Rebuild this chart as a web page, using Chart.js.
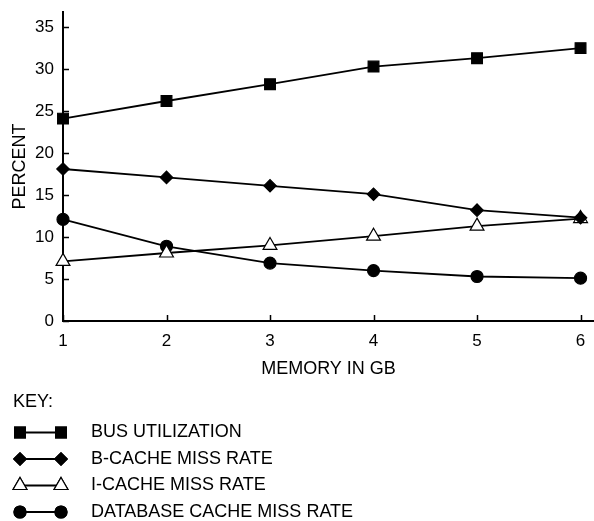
<!DOCTYPE html>
<html>
<head>
<meta charset="utf-8">
<script src="https://cdn.jsdelivr.net/npm/chart.js@4"></script>
<style>
  html, body { margin: 0; padding: 0; background: #fff; }
  #wrap { width: 594px; height: 521px; }
</style>
</head>
<body>
<div id="wrap"><canvas id="graphique" width="594" height="521"></canvas></div>
<script>
// valeurs
var memoire = [1, 2, 3, 4, 5, 6];
var busUtilisation = [24.1, 26.2, 28.2, 30.3, 31.3, 32.5];
var bCacheMiss = [18.1, 17.1, 16.1, 15.1, 13.2, 12.3];
var iCacheMiss = [7.1, 8.1, 9.0, 10.1, 11.3, 12.2];
var baseCacheMiss = [12.1, 8.9, 6.9, 6.0, 5.3, 5.1];

var noms = ["BUS UTILIZATION", "B-CACHE MISS RATE", "I-CACHE MISS RATE", "DATABASE CACHE MISS RATE"];
var series = [busUtilisation, bCacheMiss, iCacheMiss, baseCacheMiss];
var styles = ["rect", "rectRot", "triangle", "circle"];
var rayons = [7.6, 6.2, 8, 6];
var remplis = ["#000", "#000", "#fff", "#000"];

var police = "'Liberation Sans', Arial, Helvetica, sans-serif";

function Points(valeurs) {
    var pts = [];
    var i = 0;
    while (i < valeurs.length) {
        pts.push({ x: memoire[i], y: valeurs[i] });
        i++;
    }
    return pts;
}

var datasets = [];
for (var i = 0; i < series.length; i++) {
    datasets.push({
        label: noms[i],
        data: Points(series[i]),
        borderColor: "#000",
        borderWidth: 1.8,
        pointStyle: styles[i],
        pointRadius: rayons[i],
        pointHoverRadius: rayons[i],
        pointBackgroundColor: remplis[i],
        pointBorderColor: "#000",
        pointBorderWidth: 1.2,
        tension: 0,
        clip: false
    });
}

// petits traits de graduation vers l'intérieur
var graduations = {
    id: "graduations",
    afterDraw: function (chart) {
        var ctx = chart.ctx;
        var sx = chart.scales.x, sy = chart.scales.y;
        var area = chart.chartArea;
        ctx.save();
        ctx.strokeStyle = "#000";
        ctx.lineWidth = 1.5;
        ctx.beginPath();
        sy.ticks.forEach(function (t) {
            var py = Math.round(sy.getPixelForValue(t.value)) + 0.5;
            ctx.moveTo(area.left, py);
            ctx.lineTo(area.left + 6, py);
        });
        sx.ticks.forEach(function (t) {
            var px = Math.round(sx.getPixelForValue(t.value)) + 0.5;
            ctx.moveTo(px, area.bottom);
            ctx.lineTo(px, area.bottom - 6);
        });
        ctx.stroke();
        ctx.restore();
    }
};

// légende "KEY:" dessinée sous le graphique
var cle = {
    id: "cle",
    afterDraw: function (chart) {
        var ctx = chart.ctx;
        ctx.save();
        ctx.fillStyle = "#000";
        ctx.font = "18px " + police;
        ctx.textBaseline = "middle";
        ctx.textAlign = "left";
        ctx.fillText("KEY:", 13, 402);
        chart.data.datasets.forEach(function (ds, k) {
            var y = 432.5 + 26.5 * k;
            ctx.strokeStyle = "#000";
            ctx.lineWidth = 1.8;
            ctx.beginPath();
            ctx.moveTo(20, y);
            ctx.lineTo(61, y);
            ctx.stroke();
            ctx.fillStyle = ds.pointBackgroundColor;
            ctx.lineWidth = 1.2;
            [20, 61].forEach(function (x) {
                Chart.helpers.drawPoint(ctx, { pointStyle: ds.pointStyle, radius: ds.pointRadius, borderWidth: 1.2, rotation: 0 }, x, y);
                ctx.fill();
                ctx.stroke();
            });
            ctx.fillStyle = "#000";
            ctx.fillText(ds.label, 91, y);
        });
        ctx.restore();
    }
};

var ctx = document.getElementById("graphique").getContext("2d");
var graphique = new Chart(ctx, {
    type: "line",
    data: { datasets: datasets },
    plugins: [graduations, cle],
    options: {
        responsive: false,
        animation: false,
        layout: { autoPadding: false, padding: { top: 12, right: 0, left: 0, bottom: 141 } },
        plugins: {
            legend: { display: false },
            tooltip: { enabled: false }
        },
        scales: {
            x: {
                type: "linear",
                min: 1,
                max: 6.13,
                grid: { display: false, drawTicks: false },
                border: { display: true, color: "#000", width: 2 },
                ticks: {
                    stepSize: 1,
                    includeBounds: false,
                    color: "#000",
                    padding: 10,
                    font: { family: police, size: 17 }
                },
                afterBuildTicks: function (s) {
                    s.ticks = s.ticks.filter(function (t) { return Number.isInteger(t.value); });
                },
                afterFit: function (s) {
                    s.height = 59;
                    s.paddingLeft = 0;
                    s.paddingRight = 0;
                },
                title: {
                    display: true,
                    text: "MEMORY IN GB",
                    color: "#000",
                    padding: { top: 0, bottom: 0 },
                    font: { family: police, size: 18 }
                }
            },
            y: {
                min: 0,
                max: 36.8,
                grid: { display: false, drawTicks: false },
                border: { display: true, color: "#000", width: 2 },
                ticks: {
                    stepSize: 5,
                    includeBounds: false,
                    color: "#000",
                    padding: 9,
                    font: { family: police, size: 17 }
                },
                afterBuildTicks: function (s) {
                    s.ticks = s.ticks.filter(function (t) { return t.value % 5 === 0; });
                },
                afterFit: function (s) {
                    s.width = 63;
                    s.paddingTop = 0;
                    s.paddingBottom = 0;
                },
                title: {
                    display: true,
                    text: "PERCENT",
                    color: "#000",
                    padding: { top: 9, bottom: 0 },
                    font: { family: police, size: 18 }
                }
            }
        }
    }
});
</script>
</body>
</html>
